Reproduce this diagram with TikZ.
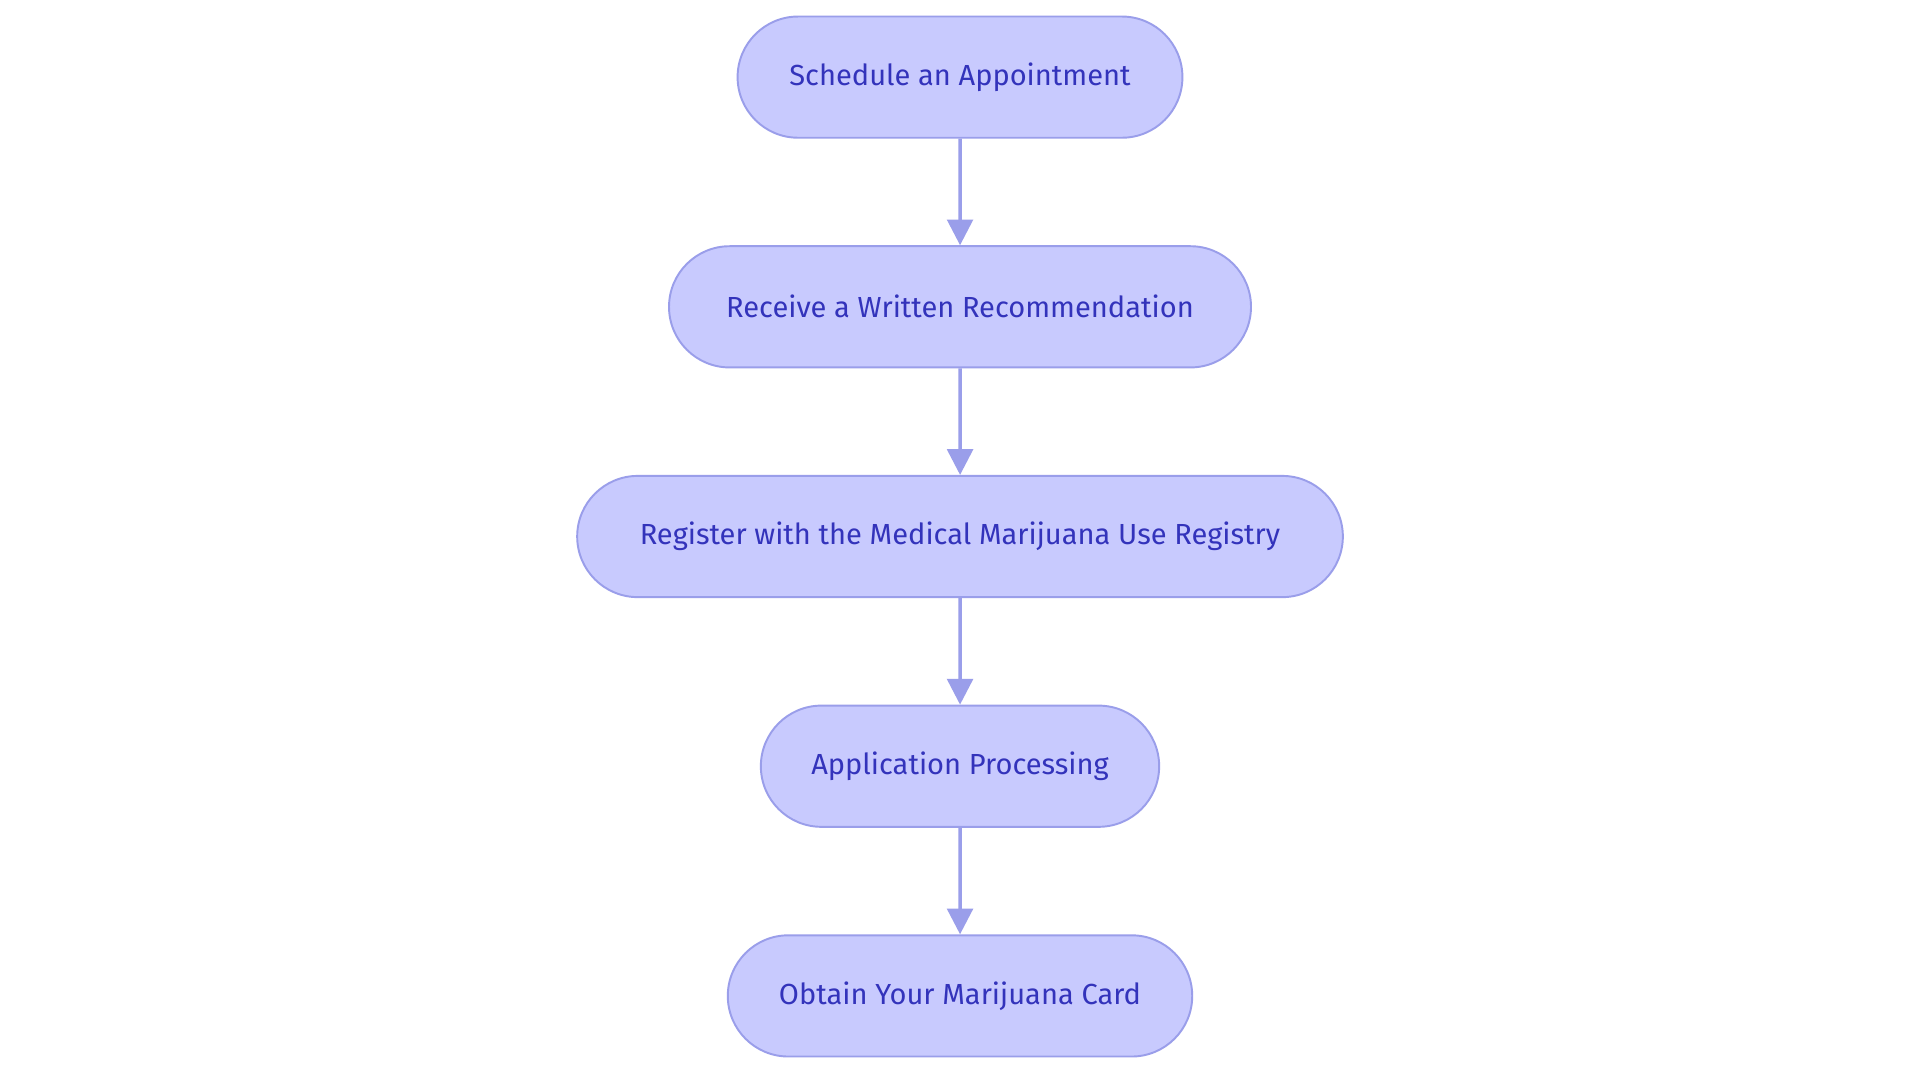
\documentclass[tikz,border=0pt]{standalone}
\usepackage{fontspec}
\setmainfont{Fira Sans}
\usetikzlibrary{positioning,arrows.meta,shapes.misc}
\definecolor{stagefill}{HTML}{C8CAFE}
\definecolor{stageline}{HTML}{9A9EEA}
\definecolor{stagetext}{HTML}{3333BB}
\tikzset{
  stage/.style={rounded rectangle,draw=stageline,fill=stagefill,line width=0.9pt,
    text=stagetext,minimum height=1.98cm,font=\fontsize{13.5}{15}\selectfont},
  flow/.style={draw=stageline,line width=1.6pt,-{Triangle[length=0.42cm,width=0.42cm]}}
}
\begin{document}
\begin{tikzpicture}[node distance=1.74cm]
\useasboundingbox[fill=white] (0,0) rectangle (31.36,-17.68);
\node[stage,minimum width=7.5cm] (sched) at (15.68,-1.26) {Schedule an Appointment};
\node[stage,minimum width=9.74cm,below=of sched] (recv) {Receive a Written Recommendation};
\node[stage,minimum width=12.74cm,below=of recv] (reg) {Register with the Medical Marijuana Use Registry};
\node[stage,minimum width=6.74cm,below=of reg] (proc) {Application Processing};
\node[stage,minimum width=7.82cm,below=of proc] (card) {Obtain Your Marijuana Card};

\draw[flow] (sched) -- (recv);
\draw[flow] (recv) -- (reg);
\draw[flow] (reg) -- (proc);
\draw[flow] (proc) -- (card);
\end{tikzpicture}
\end{document}
